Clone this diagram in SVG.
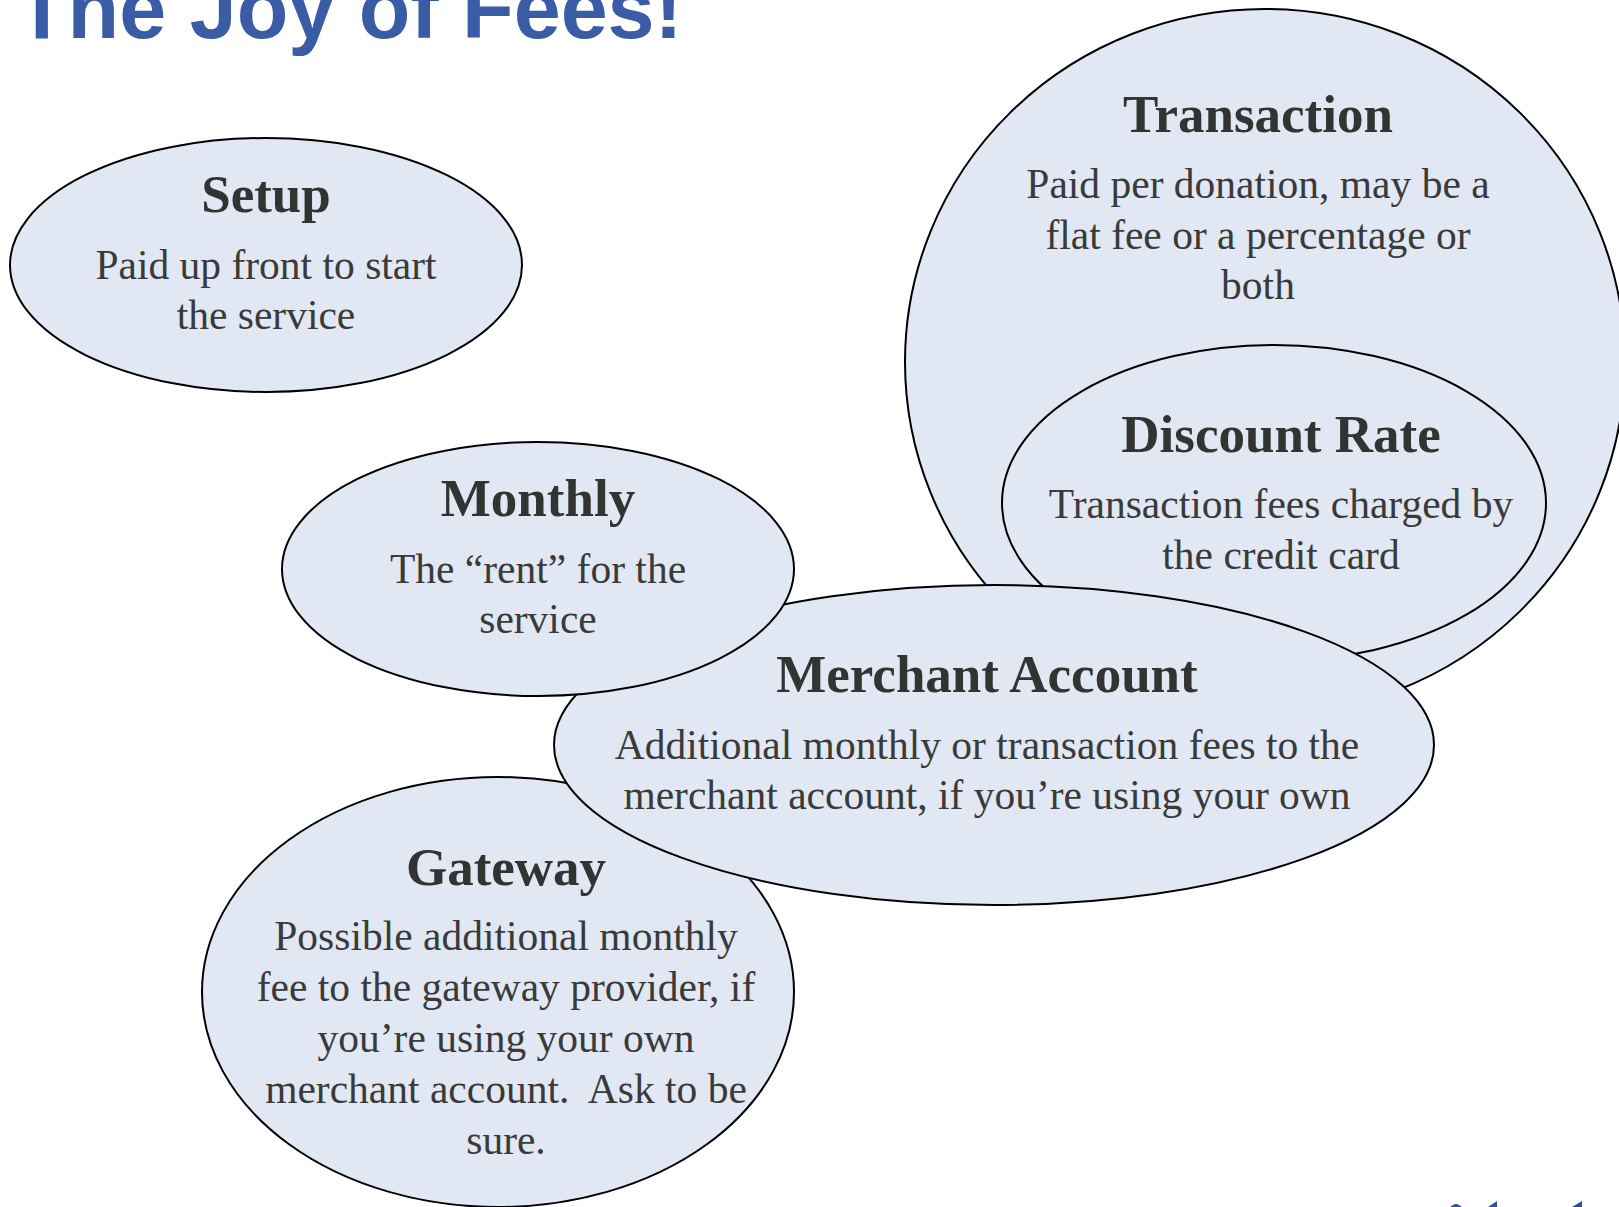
<svg xmlns="http://www.w3.org/2000/svg" width="1619" height="1207" viewBox="0 0 1619 1207">
  <style>
    .bubble { fill: #e1e8f4; stroke: #000; stroke-width: 2; }
    .head { font-family: "Liberation Serif", "Times New Roman", serif; font-weight: bold; font-size: 53px; fill: #333333; text-anchor: middle; }
    .body { font-family: "Liberation Serif", "Times New Roman", serif; font-size: 41.5px; fill: #3a3a3a; text-anchor: middle; white-space: pre; }
    .title { font-family: "Liberation Sans", Arial, sans-serif; font-weight: bold; font-size: 84.5px; fill: #3a5ca6; }
    .logo { fill: #2f4f9a; }
  </style>

  <!-- slide heading, clipped by the top edge -->
  <text class="title" x="16" y="38">The Joy of Fees!</text>

  <!-- fee bubbles, back to front -->
  <g id="setup">
    <ellipse class="bubble" cx="266" cy="265" rx="256" ry="127"/>
    <text class="head" x="266" y="212">Setup</text>
    <text class="body" x="266" y="279">Paid up front to start</text>
    <text class="body" x="266" y="329">the service</text>
  </g>

  <g id="transaction">
    <ellipse class="bubble" cx="1265" cy="362" rx="360" ry="353"/>
    <text class="head" x="1258" y="132">Transaction</text>
    <text class="body" x="1258" y="198">Paid per donation, may be a</text>
    <text class="body" x="1258" y="249">flat fee or a percentage or</text>
    <text class="body" x="1258" y="299">both</text>
  </g>

  <g id="discount-rate">
    <ellipse class="bubble" cx="1274" cy="503" rx="272" ry="158"/>
    <text class="head" x="1281" y="452">Discount Rate</text>
    <text class="body" x="1281" y="518">Transaction fees charged by</text>
    <text class="body" x="1281" y="569">the credit card</text>
  </g>

  <g id="gateway">
    <ellipse class="bubble" cx="498" cy="992" rx="296" ry="215"/>
    <text class="head" x="506" y="885">Gateway</text>
    <text class="body" x="506" y="950">Possible additional monthly</text>
    <text class="body" x="506" y="1001">fee to the gateway provider, if</text>
    <text class="body" x="506" y="1052">you’re using your own</text>
    <text class="body" x="506" y="1103">merchant account.  Ask to be</text>
    <text class="body" x="506" y="1154">sure.</text>
  </g>

  <g id="merchant-account">
    <ellipse class="bubble" cx="994" cy="745" rx="440" ry="160"/>
    <text class="head" x="987" y="692">Merchant Account</text>
    <text class="body" x="987" y="759">Additional monthly or transaction fees to the</text>
    <text class="body" x="987" y="809">merchant account, if you’re using your own</text>
  </g>

  <g id="monthly">
    <ellipse class="bubble" cx="538" cy="569" rx="256" ry="127"/>
    <text class="head" x="538" y="516">Monthly</text>
    <text class="body" x="538" y="583">The “rent” for the</text>
    <text class="body" x="538" y="633">service</text>
  </g>

  <!-- no connectors in this diagram -->
  <g id="connectors"/>

  <!-- corner logo, mostly below the bottom edge -->
  <g id="corner-logo">
    <circle class="logo" cx="1456" cy="1210" r="6"/>
    <path class="logo" d="M1488 1207 L1497 1201 L1497 1207 Z"/>
    <path class="logo" d="M1572 1207 L1582 1201 L1582 1207 Z"/>
  </g>
</svg>
